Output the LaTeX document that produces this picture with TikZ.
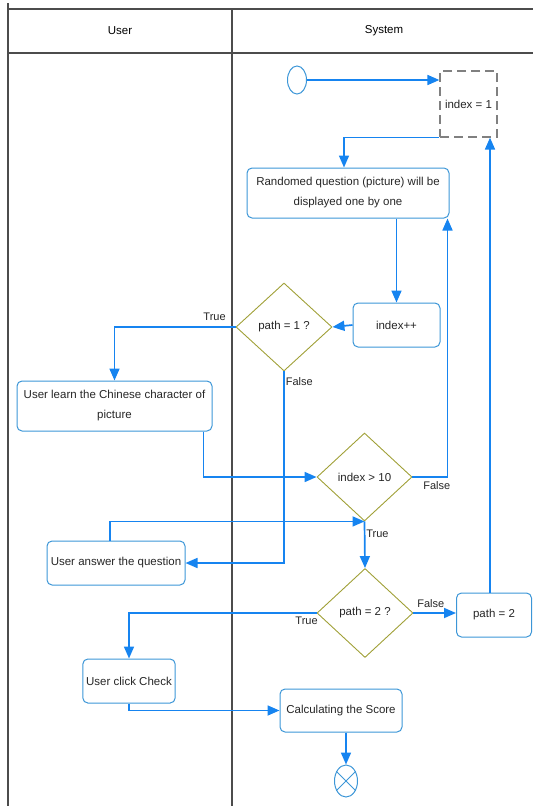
\documentclass[tikz,border=0pt]{standalone}
\usepackage{fontspec}
\setmainfont{Liberation Sans}
\usetikzlibrary{calc}
\usetikzlibrary{positioning}
\usetikzlibrary{shapes.geometric}
\usetikzlibrary{arrows.meta}

\definecolor{flowblue}{RGB}{22,132,240}
\definecolor{actblue}{RGB}{60,150,215}
\definecolor{choiceolive}{RGB}{160,160,55}

\begin{document}
\begin{tikzpicture}[x=1pt, y=-1pt,
    font=\fontsize{11.5}{20}\selectfont,
    lane/.style={line width=1.3pt, black!70},
    act/.style={draw=actblue, line width=1pt, rounded corners=5pt, align=center, text=black!85},
    choice/.style={diamond, draw=choiceolive, line width=0.9pt, inner sep=0pt, text=black!85},
    flow/.style={-{Triangle[length=12pt, width=10pt]}, line width=1.7pt, flowblue},
    lbl/.style={font=\fontsize{11}{13}\selectfont, text=black!85, inner sep=1pt}]
    \useasboundingbox (0,0) rectangle (533,806);

    % Lanes
    \draw[lane] (8,3) -- (8,806);
    \draw[lane] (8,9) -- (533,9);
    \draw[lane] (8,53) -- (533,53);
    \draw[lane] (232,9) -- (232,806);
    \node (user) at (120,31) {User};
    \node (system) at (384,31) {System};

    % Activities
    \node[ellipse, draw=actblue, line width=1pt, minimum width=19pt, minimum height=28pt, inner sep=0pt] (start) at (297,80) {};
    \node[draw=gray, dash pattern=on 9pt off 5pt, line width=1.2pt, minimum width=57pt, minimum height=66pt, text=black!85] (init) at (468.5,104) {index = 1};
    \node[act, minimum width=202pt, minimum height=50pt] (rand) at (348,193) {Randomed question (picture) will be\\displayed one by one};
    \node[act, minimum width=87pt, minimum height=44pt] (incr) at (396.5,325) {index++};
    \node[choice, minimum width=96pt, minimum height=88pt] (chkone) at (284,327) {path = 1 ?};
    \node[act, minimum width=195pt, minimum height=50pt] (learn) at (114.5,406) {User learn the Chinese character of\\picture};
    \node[choice, minimum width=95pt, minimum height=88pt] (chkten) at (364.5,477) {index > 10};
    \node[act, minimum width=138pt, minimum height=44pt] (answer) at (116,563) {User answer the question};
    \node[choice, minimum width=96pt, minimum height=89pt] (chktwo) at (365,613) {path = 2 ?};
    \node[act, minimum width=75pt, minimum height=44pt] (settwo) at (494,615) {path = 2};
    \node[act, minimum width=92pt, minimum height=44pt] (click) at (129,681) {User click Check};
    \node[act, minimum width=122pt, minimum height=43pt] (score) at (341,710.5) {Calculating the Score};
    \node[ellipse, draw=actblue, line width=1pt, minimum width=23pt, minimum height=32pt, inner sep=0pt] (stop) at (346,781) {};
    \draw[actblue, line width=1pt] (stop.45) -- (stop.225) (stop.135) -- (stop.315);

    % Connectors
    \draw[flow] (start) -- (start -| init.west);
    \draw[flow] (init.south west) -| ([xshift=-4pt]rand.north);
    \draw[flow] (rand.south -| incr.north) -- (incr.north);
    \draw[flow] (incr.west) -- (chkone.east);
    \draw[flow] (chkone.west) -| node[pos=0, lbl, above left, xshift=-8pt, yshift=5pt] {True} (learn.north);
    \draw[flow] ([xshift=-9pt]learn.south east) |- (chkten.west);
    \draw[flow] (chkten.east) -| node[pos=0, lbl, below right, xshift=9pt, yshift=-3pt] {False} ([xshift=-2pt]rand.south east);
    \draw[flow] (chkone.south) |- node[pos=0, lbl, below right, yshift=-4pt] {False} (answer.east);
    \draw[flow] ([xshift=-6pt]answer.north) |- (chkten.south);
    \draw[flow] (chkten.south) -- node[pos=0, lbl, below right, yshift=-7pt] {True} (chktwo.north);
    \draw[flow] (chktwo.west) -| node[pos=0, lbl, below left, xshift=3pt, yshift=-2pt] {True} (click.north);
    \draw[flow] (chktwo.east) -- node[pos=0, lbl, above right, xshift=2pt, yshift=4pt] {False} (chktwo.east -| settwo.west);
    \draw[flow] ([xshift=-4pt]settwo.north) -- ([xshift=-4pt]settwo.north |- init.south);
    \draw[flow] (click.south) |- (score.west);
    \draw[flow] (score.south -| stop.north) -- (stop.north);
\end{tikzpicture}
\end{document}
